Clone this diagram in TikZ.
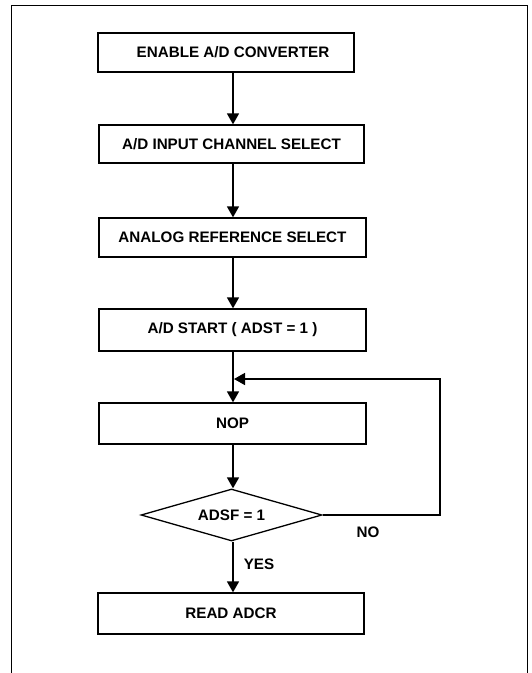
\documentclass[tikz,border=0pt]{standalone}
\usepackage{fontspec}
\setmainfont{Liberation Sans}
\usetikzlibrary{arrows.meta,shapes.geometric}
\begin{document}
\begin{tikzpicture}[x=1pt,y=-1pt,
  box/.style={draw,line width=1.3pt,minimum height=39pt,inner sep=0pt},
  txt/.style={font=\fontsize{15.2}{17}\selectfont\bfseries,inner sep=0pt},
  dec/.style={draw,line width=1.3pt,diamond,aspect=3.48,minimum width=181pt,minimum height=52pt,inner sep=0pt},
  arr/.style={line width=1.6pt,-{Triangle[width=12pt,length=11pt]}},
  frame/.style={line width=1pt}]
\useasboundingbox (0,0) rectangle (531,673);
\fill[white] (0,0) rectangle (531,673);
% frame
\coordinate (f1) at (11,673);
\coordinate (f2) at (11,5);
\coordinate (f3) at (527,5);
\coordinate (f4) at (527,673);
\draw[frame] (f1) -- (f2) -- (f3) -- (f4);
% arrow axis
\coordinate (ax) at (233,0);
% boxes
\node[box,minimum width=256pt] (b1) at (226,52.5) {};
\node[txt] (t1) at (233,52.5) {ENABLE A/D CONVERTER};
\node[box,minimum width=265pt,minimum height=38pt] (b2) at (231.5,144) {};
\node[txt] (t2) at (231.5,144) {A/D INPUT CHANNEL SELECT};
\node[box,minimum width=267pt] (b3) at (232.5,237.5) {};
\node[txt] (t3) at (232.5,237.5) {ANALOG REFERENCE SELECT};
\node[box,minimum width=267pt,minimum height=42pt] (b4) at (232.5,330) {};
\node[txt] (t4) at (232.5,330) {A/D START ( ADST = 1 )};
\node[box,minimum width=267pt,minimum height=41pt] (b5) at (232.5,423.5) {};
\node[txt] (t5) at (232.5,423.5) {NOP};
\node[dec] (d1) at (231.5,515) {};
\node[txt] (t6) at (231.5,515) {ADSF = 1};
\node[box,minimum width=266pt,minimum height=41pt] (b6) at (231,613.5) {};
\node[txt] (t7) at (231,613.5) {READ ADCR};
% labels
\node[txt] (no) at (368,532) {NO};
\node[txt] (yes) at (259,564) {YES};
% connectors
\draw[arr] (b1.south -| ax) -- (b2.north -| ax);
\draw[arr] (b2.south -| ax) -- (b3.north -| ax);
\draw[arr] (b3.south -| ax) -- (b4.north -| ax);
\draw[arr] (b4.south -| ax) -- (b5.north -| ax);
\draw[arr] (b5.south -| ax) -- (d1.north -| ax);
\draw[arr] (d1.south -| ax) -- (b6.north -| ax);
\coordinate (lr) at (440,379);
\coordinate (lj) at (234,379);
\draw[arr] (d1.east) -- (d1.east -| lr) -- (lr) -- (lj);
\end{tikzpicture}
\end{document}
